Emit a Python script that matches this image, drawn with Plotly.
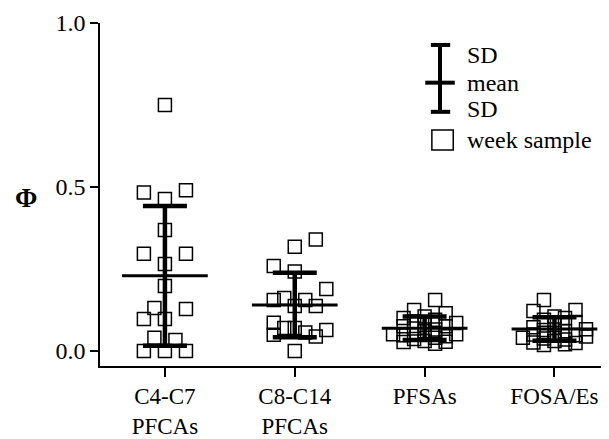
import plotly.graph_objects as go

categories = ["C4-C7<br>PFCAs", "C8-C14<br>PFCAs", "PFSAs", "FOSA/Es"]

# group mean and standard deviation of phi
means = [0.229, 0.140, 0.069, 0.067]
sds = [0.213, 0.098, 0.036, 0.036]

# weekly samples: phi values and the column slot each square sits in
c4c7_phi = [0.75, 0.483, 0.49, 0.463, 0.369, 0.296, 0.296, 0.265, 0.198,
            0.131, 0.128, 0.097, 0.097, 0.04, 0.033, 0.0, 0.0, 0.0]
c4c7_slot = [0, -2, 2, 0, 0, -2, 2, 0, 0, -1, 2, -2, 0, -1, 1, -2, 0, 2]

c8c14_phi = [0.340, 0.318, 0.259, 0.242, 0.189, 0.161, 0.155, 0.155, 0.137,
             0.137, 0.086, 0.070, 0.070, 0.056, 0.064, 0.049, 0.044, 0.0]
c8c14_slot = [2, 0, -2, 0, 3, -1, -2, 1, 0, 2, -2, -1, 0, 1, 3, -2, 2, 0]

pfsa_phi = [0.155, 0.125, 0.115, 0.105, 0.100, 0.095, 0.090, 0.085, 0.080,
            0.075, 0.075, 0.068, 0.065, 0.060, 0.051, 0.051, 0.048, 0.045,
            0.040, 0.036, 0.030, 0.028, 0.027, 0.022]
pfsa_slot = [1, -1, 2, 0, -2, 1, -1, 3, 0, -2, 2, -1, 1, 0, -3, 3, -2, 2,
             1, -1, 0, 2, -2, 1]

fosa_phi = [0.155, 0.125, 0.122, 0.105, 0.100, 0.095, 0.088, 0.080, 0.072,
            0.066, 0.064, 0.060, 0.055, 0.050, 0.048, 0.044, 0.040, 0.038,
            0.035, 0.030, 0.026, 0.024, 0.020, 0.018]
fosa_slot = [-1, 2, -2, 0, 1, -1, 2, 0, -2, 3, -1, 1, 0, -2, 2, 3, -3, -1,
             1, 0, -2, 2, 1, -1]

samples = [(c4c7_phi, c4c7_slot), (c8c14_phi, c8c14_slot),
           (pfsa_phi, pfsa_slot), (fosa_phi, fosa_slot)]

SLOT_W = 0.081   # column spacing in category units
MEAN_HALF = 0.33  # half length of the mean line
FONT = "Liberation Serif, Times New Roman, DejaVu Serif, serif"

fig = go.Figure()

# squares for every week sample
xs, ys = [], []
for i, (phi, slot) in enumerate(samples):
    for v, s in zip(phi, slot):
        xs.append(i + s * SLOT_W)
        ys.append(v)
fig.add_trace(go.Scatter(x=xs, y=ys, mode="markers",
                         marker=dict(symbol="square-open", size=13, color="black",
                                     line=dict(width=1.5, color="black"))))

# SD error bars
fig.add_trace(go.Scatter(x=list(range(len(categories))), y=means, mode="markers",
                         marker=dict(size=1, color="rgba(0,0,0,0)"),
                         error_y=dict(type="data", array=sds, visible=True,
                                      width=22, thickness=4.5, color="black")))

# mean lines
mx, my = [], []
for i, m in enumerate(means):
    mx += [i - MEAN_HALF, i + MEAN_HALF, None]
    my += [m, m, None]
fig.add_trace(go.Scatter(x=mx, y=my, mode="lines",
                         line=dict(color="black", width=3)))

# page has an 8px body margin, so the figure is a bit smaller than the window
fig.update_layout(
    width=601, height=431,
    margin=dict(l=92, r=0, t=15, b=73),
    paper_bgcolor="white", plot_bgcolor="white",
    showlegend=False,
    font=dict(family=FONT, size=23, color="black"),
)
fig.update_xaxes(range=[-0.5, 3.42], tickvals=list(range(len(categories))),
                 ticktext=categories, showline=True, linewidth=1.5, linecolor="black",
                 ticks="outside", ticklen=9, tickwidth=1.5, tickcolor="black",
                 showgrid=False, zeroline=False, tickfont=dict(size=23))
fig.update_yaxes(range=[-0.046, 1.0], tickvals=[0, 0.5, 1.0], tickformat=".1f",
                 showline=True, linewidth=1.5, linecolor="black",
                 ticks="outside", ticklen=8, tickwidth=1.5, tickcolor="black",
                 showgrid=False, zeroline=False, tickfont=dict(size=24))

# axis title
fig.add_annotation(text="<b>Φ</b>", xref="paper", yref="paper", x=-0.17, y=0.49,
                   showarrow=False, font=dict(size=27, family=FONT))

# legend drawn by hand
legend_line = dict(color="black", width=4)
fig.add_shape(type="line", xref="paper", yref="paper", x0=0.668, x1=0.668,
              y0=0.741, y1=0.936, line=legend_line)
fig.add_shape(type="line", xref="paper", yref="paper", x0=0.650, x1=0.688,
              y0=0.936, y1=0.936, line=legend_line)
fig.add_shape(type="line", xref="paper", yref="paper", x0=0.650, x1=0.688,
              y0=0.741, y1=0.741, line=legend_line)
fig.add_shape(type="line", xref="paper", yref="paper", x0=0.639, x1=0.697,
              y0=0.826, y1=0.826, line=legend_line)
fig.add_shape(type="rect", xref="paper", yref="paper", x0=0.652, x1=0.694,
              y0=0.630, y1=0.688, line=dict(color="black", width=1.5))
for label, ypos in [("SD", 0.907), ("mean", 0.826), ("SD", 0.748), ("week sample", 0.659)]:
    fig.add_annotation(text=label, xref="paper", yref="paper", x=0.717, y=ypos,
                       xanchor="left", yanchor="middle", showarrow=False,
                       font=dict(size=24, family=FONT))

fig.write_html("out.html")
